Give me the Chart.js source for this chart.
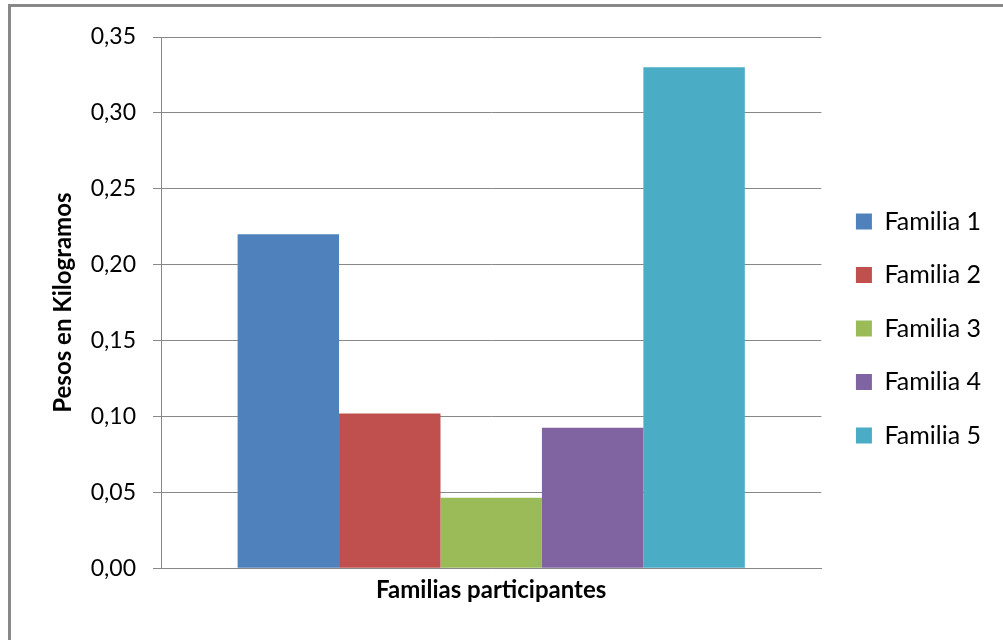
<!DOCTYPE html>
<html>
<head>
<meta charset="utf-8">
<script src="https://cdn.jsdelivr.net/npm/chart.js@4/dist/chart.umd.min.js"></script>
<style>
  html, body { margin:0; padding:0; background:#fff; }
  #wrap { position:relative; width:1003px; height:640px; overflow:hidden; }
  #marco { position:absolute; left:8px; top:4px; width:1100px; height:700px;
           border-left:3px solid #888; border-top:3px solid #888; }
  #grafico { position:absolute; left:0; top:0; }
</style>
</head>
<body>
<div id="wrap">
  <div id="marco"></div>
  <canvas id="grafico" width="1003" height="640"></canvas>
</div>
<script>
var categorias = [''];
var familias = ['Familia 1', 'Familia 2', 'Familia 3', 'Familia 4', 'Familia 5'];
var pesos = [0.22, 0.102, 0.0465, 0.0925, 0.33];
var colores = ['#4F81BD', '#C0504D', '#9BBB59', '#8064A2', '#4BACC6'];
var ticksY = [0, 0.05, 0.10, 0.15, 0.20, 0.25, 0.30, 0.35];

var fuente = "Lato, 'Open Sans', sans-serif";

var datasets = [];
familias.forEach(function(nombre, i){
    datasets.push({
        label: nombre,
        data: [pesos[i]],
        backgroundColor: colores[i],
        borderWidth: 0,
        barPercentage: 1,
        categoryPercentage: 0.768
    });
});

var ctx = document.getElementById('grafico').getContext('2d');
var chart = new Chart(ctx, {
    type: 'bar',
    data: { labels: categorias, datasets: datasets },
    options: {
        responsive: false,
        animation: false,
        layout: { padding: { left: 40, top: 37, right: 12, bottom: 20 } },
        plugins: {
            tooltip: { enabled: false },
            legend: {
                position: 'right',
                maxWidth: 250,
                labels: {
                    boxWidth: 16,
                    boxHeight: 16,
                    padding: 28.5,
                    color: '#000',
                    font: { family: fuente, size: 25 }
                }
            }
        },
        scales: {
            x: {
                grid: { display: false },
                border: { display: true, color: '#888', width: 1 },
                ticks: { display: false },
                title: {
                    display: true,
                    text: 'Familias participantes',
                    color: '#000',
                    font: { family: fuente, size: 24, weight: 'bold' },
                    padding: { top: 0, bottom: 15 }
                }
            },
            y: {
                min: 0,
                max: 0.35,
                afterBuildTicks: function(scale){
                    scale.ticks = ticksY.map(function(v){ return { value: v }; });
                },
                afterFit: function(scale){ scale.width = 121; },
                grid: { color: '#888', lineWidth: 1, tickLength: 8 },
                border: { display: true, color: '#888', width: 1 },
                ticks: {
                    color: '#000',
                    padding: 17,
                    font: { family: fuente, size: 23 },
                    callback: function(v){ return Number(v).toFixed(2).replace('.', ','); }
                },
                title: {
                    display: true,
                    text: 'Pesos en Kilogramos',
                    color: '#000',
                    font: { family: fuente, size: 24, weight: 'bold' },
                    padding: { top: 9, bottom: 0 }
                }
            },
            // empty right axis, only leaves room between the plot and the legend
            margen: {
                type: 'linear',
                position: 'right',
                grid: { display: false },
                border: { display: false },
                ticks: { display: false },
                afterFit: function(scale){ scale.width = 6; }
            }
        }
    }
});
</script>
</body>
</html>
